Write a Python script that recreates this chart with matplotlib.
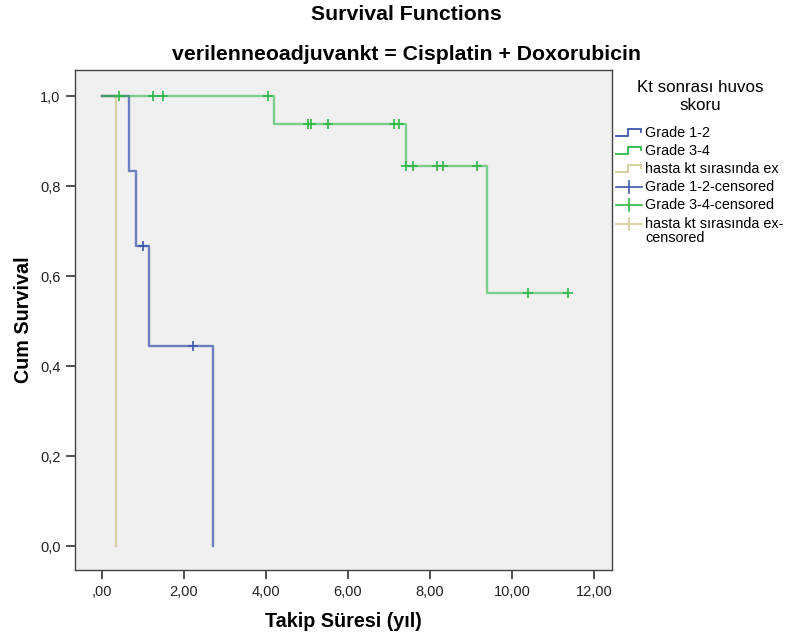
import matplotlib
matplotlib.use("Agg")
import matplotlib.pyplot as plt
from matplotlib.ticker import FixedLocator, FixedFormatter

plt.rcParams['font.family'] = ['Liberation Sans', 'DejaVu Sans']

# Kaplan-Meier step data (time in years, cumulative survival)
grade12_times = [0, 0.66, 0.83, 1.15, 2.71]
grade12_surv = [1.0, 0.8333, 0.6667, 0.4444, 0.0]
grade12_cens_t = [1.00, 2.22]
grade12_cens_s = [0.6667, 0.4444]

grade34_times = [0, 4.20, 7.41, 9.39, 11.37]
grade34_surv = [1.0, 0.9375, 0.84375, 0.5625, 0.5625]
grade34_cens_t = [0.41, 1.24, 1.49, 4.05, 5.02, 5.10, 5.51, 7.12, 7.24,
                  7.41, 7.59, 8.17, 8.32, 9.15, 10.39, 11.37]
grade34_cens_s = [1.0, 1.0, 1.0, 1.0, 0.9375, 0.9375, 0.9375, 0.9375, 0.9375,
                  0.84375, 0.84375, 0.84375, 0.84375, 0.84375, 0.5625, 0.5625]

ex_times = [0, 0.35]
ex_surv = [1.0, 0.0]

x_ticks = [0, 2, 4, 6, 8, 10, 12]
x_labels = [",00", "2,00", "4,00", "6,00", "8,00", "10,00", "12,00"]
y_ticks = [0.0, 0.2, 0.4, 0.6, 0.8, 1.0]
y_labels = ["0,0", "0,2", "0,4", "0,6", "0,8", "1,0"]

legend_labels = ["Grade 1-2", "Grade 3-4", "hasta kt sırasında ex",
                 "Grade 1-2-censored", "Grade 3-4-censored",
                 "hasta kt sırasında ex-\ncensored"]

BLUE = "#3E58AC"
GREEN = "#2EB848"
TAN = "#D3CE97"

W, H = 785, 637
fig = plt.figure(figsize=(W / 100, H / 100), dpi=100)
fig.patch.set_facecolor("white")

L, R, T, B = 75, 612, 70, 570
ax = fig.add_axes([L / W, 1 - B / H, (R - L) / W, (B - T) / H])
ax.set_facecolor("#F0F0F0")

ax.step(ex_times, ex_surv, where="post", color=TAN, lw=1.7, alpha=0.85)
ax.step(grade12_times, grade12_surv, where="post", color=BLUE, lw=1.7, alpha=0.75)
ax.step(grade34_times, grade34_surv, where="post", color=GREEN, lw=1.7, alpha=0.6)
ax.plot(grade12_cens_t, grade12_cens_s, ls="none", marker="+", ms=6.5, mew=1.2,
        color=BLUE)
ax.plot(grade34_cens_t, grade34_cens_s, ls="none", marker="+", ms=6.5, mew=1.2,
        color=GREEN)

ax.set_xlim(-0.66, 12.44)
ax.set_ylim(-0.053, 1.058)
ax.xaxis.set_major_locator(FixedLocator(x_ticks))
ax.xaxis.set_major_formatter(FixedFormatter(x_labels))
ax.yaxis.set_major_locator(FixedLocator(y_ticks))
ax.yaxis.set_major_formatter(FixedFormatter(y_labels))
ax.tick_params(direction="out", length=6.5, width=1.2, color="#333333",
               labelsize=10.5, labelcolor="#222222", pad=4)
for sp in ax.spines.values():
    sp.set_color("#444444")
    sp.set_linewidth(1.0)

ax.set_xlabel("Takip Süresi (yıl)", fontsize=14.2, fontweight="bold", labelpad=10)
ax.set_ylabel("Cum Survival", fontsize=14.2, fontweight="bold", labelpad=5)

fig.text(406 / W, 1 - 15 / H, "Survival Functions", ha="center", va="center",
         fontsize=15.3, fontweight="bold")
fig.text(406 / W, 1 - 54 / H, "verilenneoadjuvankt = Cisplatin + Doxorubicin",
         ha="center", va="center", fontsize=15.3, fontweight="bold")

# Legend drawn on an overlay in pixel coordinates
lg = fig.add_axes([0, 0, 1, 1], facecolor="none")
lg.set_xlim(0, W)
lg.set_ylim(H, 0)
lg.axis("off")
lg.text(700, 88, "Kt sonrası huvos", ha="center", va="center", fontsize=12.2)
lg.text(700, 105, "skoru", ha="center", va="center", fontsize=12.2)

line_colors = [BLUE, GREEN, TAN]
rows = [133, 151, 169, 187, 205, 224]
for i, (lab, yc) in enumerate(zip(legend_labels, rows)):
    c = line_colors[i % 3]
    if i < 3:
        lg.plot([616, 628, 628, 641, 641], [yc + 3, yc + 3, yc - 4, yc - 4, yc - 1],
                color=c, lw=1.3, solid_joinstyle="miter")
    else:
        lg.plot([616, 642], [yc, yc], color=c, lw=1.2)
        lg.plot([629, 629], [yc - 6, yc + 6], color=c, lw=1.2)
    if "\n" in lab:
        l1, l2 = lab.split("\n")
        lg.text(645, yc, l1, ha="left", va="center", fontsize=10.4)
        lg.text(645, yc + 14, l2, ha="left", va="center", fontsize=10.4)
    else:
        lg.text(645, yc, lab, ha="left", va="center", fontsize=10.4)

fig.savefig("out.png", dpi=100, facecolor="white")
